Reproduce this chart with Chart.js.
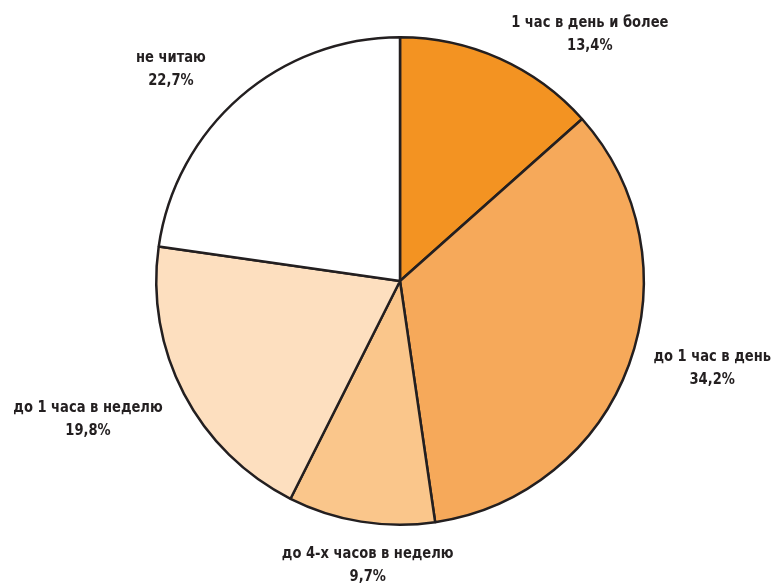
<!DOCTYPE html>
<html>
<head>
<meta charset="utf-8">
<script src="https://cdn.jsdelivr.net/npm/chart.js@4.4.0/dist/chart.umd.min.js"></script>
<style>
html,body{margin:0;padding:0;background:#fff;}
#wrap{width:775px;height:583px;position:relative;}
</style>
</head>
<body>
<div id="wrap"><canvas id="c" width="775" height="583"></canvas></div>
<script>
const categories = ["1 час в день и более", "до 1 час в день", "до 4-х часов в неделю", "до 1 часа в неделю", "не читаю"];
const values = [13.4, 34.2, 9.7, 19.8, 22.7];
const valueLabels = ["13,4%", "34,2%", "9,7%", "19,8%", "22,7%"];
const colors = ["#F39322", "#F6A95A", "#FAC68B", "#FDDFBF", "#FFFFFF"];
// label placement: [angle shift in degrees from slice middle, distance as fraction of radius]
const labelPlace = [[13.3, 1.28], [-4.4, 1.33], [-2.7, 1.17], [3.7, 1.40], [-6.3, 1.28]];

const labelPlugin = {
  id: 'outLabels',
  afterDatasetsDraw(chart) {
    const ctx = chart.ctx;
    const meta = chart.getDatasetMeta(0);
    meta.data.forEach((arc, i) => {
      const p = arc.getProps(['x','y','startAngle','endAngle','outerRadius'], true);
      const mid = (p.startAngle + p.endAngle) / 2 + labelPlace[i][0] * Math.PI / 180;
      const r = p.outerRadius * labelPlace[i][1];
      const x = p.x + Math.cos(mid) * r;
      const y = p.y + Math.sin(mid) * r;
      ctx.save();
      ctx.fillStyle = '#231f20';
      ctx.font = 'bold 16px "Liberation Sans Narrow", "DejaVu Sans Condensed", "Roboto Condensed", sans-serif';
      ctx.textAlign = 'center';
      ctx.textBaseline = 'middle';
      ctx.translate(x, y);
      ctx.scale(0.91, 1);
      ctx.fillText(categories[i], 0, -11);
      ctx.fillText(valueLabels[i], 0, 12);
      ctx.restore();
    });
  }
};

new Chart(document.getElementById('c'), {
  type: 'pie',
  data: {
    labels: categories,
    datasets: [{
      data: values,
      backgroundColor: colors,
      borderColor: '#231f20',
      borderWidth: 2.5
    }]
  },
  options: {
    responsive: false,
    devicePixelRatio: 1,
    animation: false,
    layout: { padding: { top: 36, bottom: 57, left: 155, right: 130 } },
    plugins: { legend: { display: false }, tooltip: { enabled: false } }
  },
  plugins: [labelPlugin]
});
</script>
</body>
</html>
